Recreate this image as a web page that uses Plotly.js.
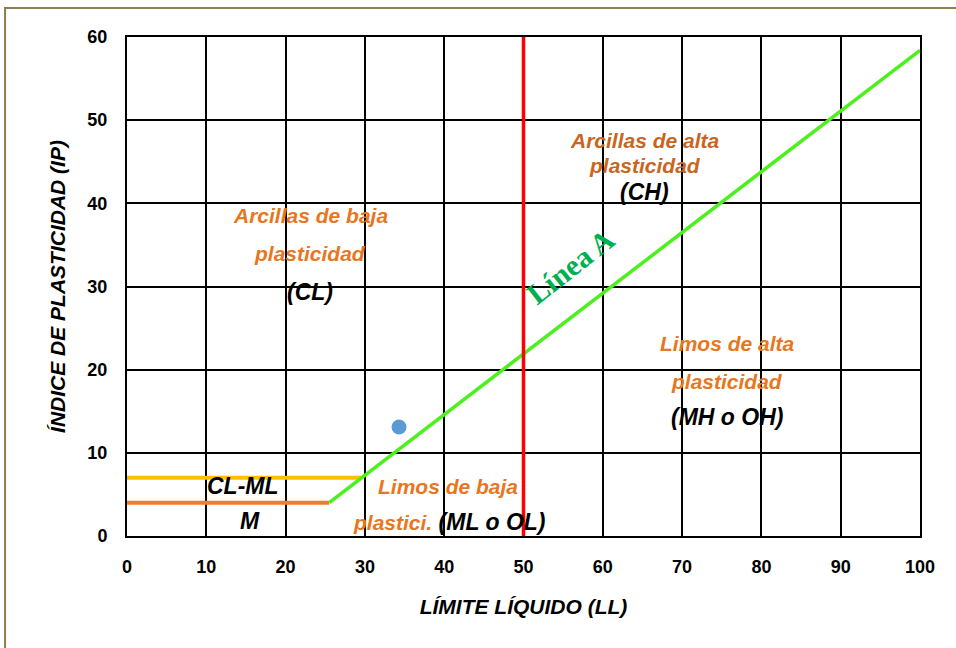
<!DOCTYPE html>
<html>
<head>
<meta charset="utf-8">
<script src="https://cdn.plot.ly/plotly-3.0.1.min.js"></script>
<style>html,body{margin:0;padding:0;background:#fff;}#chart{width:956px;height:648px;}</style>
</head>
<body>
<div id="chart"></div>
<script>
// Data
const lineA_LL = [25.5, 100];
const lineA_PI = [4, 58.4];
const lineB_LL = [50, 50];
const lineB_PI = [0, 60];
const clml_LL = [0, 29.6];
const clml_PI = [7, 7];
const m_LL = [0, 25.5];
const m_PI = [4, 4];
const sample_LL = [34.3];
const sample_PI = [13.1];
const tickVals = [0, 10, 20, 30, 40, 50, 60, 70, 80, 90, 100];
const yTickVals = [0, 10, 20, 30, 40, 50, 60];

const orange = '#E8761E';
const orange2 = '#C9651E';
const lblFont = {family: 'Liberation Sans, Arial, sans-serif', size: 21, color: orange};
const blkFont = {family: 'Liberation Sans, Arial, sans-serif', size: 23, color: '#000'};

const traces = [
  {x: clml_LL, y: clml_PI, mode: 'lines', line: {color: '#FFC000', width: 4}, hoverinfo: 'skip'},
  {x: m_LL, y: m_PI, mode: 'lines', line: {color: '#ED7D31', width: 4}, hoverinfo: 'skip'},
  {x: lineA_LL, y: lineA_PI, mode: 'lines', line: {color: '#4CF01C', width: 3.5}, hoverinfo: 'skip'},
  {x: lineB_LL, y: lineB_PI, mode: 'lines', line: {color: '#FF0000', width: 3.5}, hoverinfo: 'skip'},
  {x: sample_LL, y: sample_PI, mode: 'markers', marker: {color: '#5B9BD5', size: 15}}
];

function ann(x, y, text, font, extra) {
  return Object.assign({x: x, y: y, xref: 'x', yref: 'y', text: text, showarrow: false, font: font}, extra || {});
}

const annotations = [
  ann(23.1, 38.5, '<b><i>Arcillas de baja</i></b>', lblFont),
  ann(23.1, 34.0, '<b><i>plasticidad</i></b>', lblFont),
  ann(23.1, 29.3, '<b><i>(CL)</i></b>', blkFont),
  ann(65.3, 47.6, '<b><i>Arcillas de alta</i></b>', Object.assign({}, lblFont, {color: orange2})),
  ann(65.3, 44.6, '<b><i>plasticidad</i></b>', Object.assign({}, lblFont, {color: orange2})),
  ann(65.3, 41.4, '<b><i>(CH)</i></b>', blkFont),
  ann(75.7, 23.1, '<b><i>Limos de alta</i></b>', lblFont),
  ann(75.7, 18.6, '<b><i>plasticidad</i></b>', lblFont),
  ann(75.7, 14.3, '<b><i>(MH o OH)</i></b>', blkFont),
  ann(40.5, 6.0, '<b><i>Limos de baja</i></b>', lblFont),
  ann(40.6, 1.7, '<b><i><span style="color:' + orange + ';font-size:21px">plastici.</span> (ML o OL)</i></b>', blkFont),
  ann(14.6, 6.0, '<b><i>CL-ML</i></b>', blkFont),
  ann(15.5, 1.8, '<b><i>M</i></b>', blkFont),
  ann(55.9, 32.4, '<b>Línea A</b>', {family: 'Liberation Serif, Times New Roman, serif', size: 30, color: '#00B050'}, {textangle: -38})
];

const tickFont = {family: 'Liberation Sans Narrow, Arial Narrow, Liberation Sans, sans-serif', size: 18, color: '#000', weight: 'bold'};
const axisCommon = {
  showgrid: true, gridcolor: '#000', gridwidth: 2,
  showline: true, linecolor: '#000', linewidth: 2, mirror: true,
  zeroline: false, ticks: '', fixedrange: true,
  tickfont: tickFont
};

const layout = {
  width: 956, height: 648,
  margin: {l: 127, r: 36, t: 37, b: 112},
  paper_bgcolor: '#fff', plot_bgcolor: '#fff',
  showlegend: false,
  xaxis: Object.assign({}, axisCommon, {
    range: [0, 100], tickvals: tickVals, ticktext: tickVals.map(String),
    ticklabelstandoff: 13,
    title: {text: '<b><i>LÍMITE LÍQUIDO (LL)</i></b>', standoff: 24,
      font: {family: 'Liberation Sans Narrow, Arial Narrow, Liberation Sans, sans-serif', size: 21, color: '#000'}}
  }),
  yaxis: Object.assign({}, axisCommon, {
    range: [0, 60], tickvals: yTickVals, ticktext: yTickVals.map(String),
    ticklabelstandoff: 14,
    title: {text: '<b><i>ÍNDICE DE PLASTICIDAD (IP)</i></b>', standoff: 16,
      font: {family: 'Liberation Sans Narrow, Arial Narrow, Liberation Sans, sans-serif', size: 21, color: '#000'}}
  }),
  annotations: annotations,
  shapes: [{
    type: 'rect', xref: 'paper', yref: 'paper',
    x0: -0.1538, x1: 1.2, y0: -0.4, y1: 1.0581,
    line: {color: '#8C7F4E', width: 2}, fillcolor: 'rgba(0,0,0,0)', layer: 'below'
  }]
};

Plotly.newPlot('chart', traces, layout, {displayModeBar: false, staticPlot: true});
</script>
</body>
</html>
